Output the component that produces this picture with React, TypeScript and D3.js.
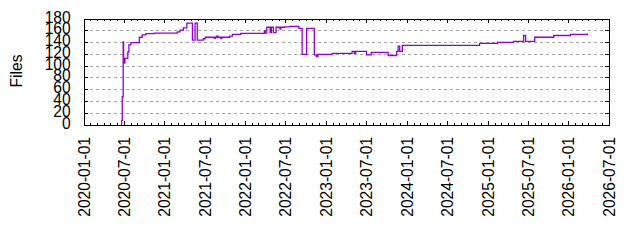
import React from "react";
import * as d3 from "d3";

const dates: string[] = [
  "2020-06-17", "2020-06-19", "2020-06-22", "2020-06-26", "2020-06-28", "2020-07-04",
  "2020-07-17", "2020-07-22", "2020-07-31", "2020-09-07", "2020-09-20", "2020-10-07",
  "2020-11-13", "2021-02-26", "2021-03-10", "2021-03-25", "2021-04-10", "2021-05-05",
  "2021-05-17", "2021-05-27", "2021-06-23", "2021-07-02", "2021-08-12", "2021-08-16",
  "2021-08-23", "2021-08-28", "2021-09-10", "2021-09-15", "2021-10-21", "2021-11-02",
  "2021-12-10", "2022-03-26", "2022-03-30", "2022-04-06", "2022-04-21", "2022-04-27",
  "2022-05-06", "2022-05-18", "2022-06-05", "2022-06-09", "2022-06-24", "2022-07-20",
  "2022-08-29", "2022-09-13", "2022-10-03", "2022-11-07", "2022-11-17", "2022-11-23",
  "2023-01-27", "2023-04-27", "2023-05-07", "2023-05-13", "2023-07-01", "2023-07-22",
  "2023-10-07", "2023-11-14", "2023-11-21", "2023-11-28", "2023-12-10", "2024-11-23",
  "2025-02-12", "2025-04-26", "2025-06-10", "2025-06-19", "2025-07-30", "2025-10-24",
  "2026-01-08", "2026-03-26",
];
const files: number[] = [
  0, 8, 48, 141, 105, 113,
  124, 136, 140, 149, 153, 155,
  156, 158, 161, 165, 173, 144,
  173, 144, 146.5, 149, 147, 149,
  151, 149, 147, 149, 151, 154,
  155.6, 160, 156, 166, 157, 166,
  157, 166, 163, 166, 166.5, 167.5,
  164, 120, 164, 119, 116, 120,
  121.7, 125, 121.5, 125, 119, 123.4,
  118, 125, 134, 125, 135.3, 138.7,
  140.4, 142, 152, 142, 149, 152,
  154, 155.5,
];
const yTicks: number[] = [0, 20, 40, 60, 80, 100, 120, 140, 160, 180];
const xTickLabels: string[] = [
  "2020-01-01", "2020-07-01", "2021-01-01", "2021-07-01", "2022-01-01", "2022-07-01",
  "2023-01-01", "2023-07-01", "2024-01-01", "2024-07-01", "2025-01-01", "2025-07-01",
  "2026-01-01", "2026-07-01",
];
const yLabel = "Files";

const W = 640, H = 240;
const L = 84, R = 609, T = 19, B = 125;
const FONT = "'Liberation Sans', Arial, sans-serif";
const FS = 15.6;

export default function App() {
  const parse = d3.utcParse("%Y-%m-%d");
  const x = d3.scaleUtc()
    .domain([parse("2020-01-01")!, parse("2026-07-01")!])
    .range([L, R]);
  const y = d3.scaleLinear().domain([0, 180]).range([B, T]);
  const data = dates.map((d, i) => ({ t: parse(d)!, v: files[i] }));
  const line = d3.line<{ t: Date; v: number }>()
    .x((d) => x(d.t))
    .y((d) => y(d.v))
    .curve(d3.curveStepAfter);
  const majors = xTickLabels.map((s) => parse(s)!);
  const minors = d3.utcMonth.range(x.domain()[0], x.domain()[1]);

  return (
    <svg width={W} height={H} style={{ position: "absolute", left: 0, top: 0, background: "#fff" }}>
      {yTicks.slice(1, -1).map((v) => (
        <line key={"g" + v} x1={L} x2={R} y1={y(v)} y2={y(v)} stroke="#a0a0a0" strokeWidth={1} strokeDasharray="3,3" shapeRendering="crispEdges" />
      ))}
      {minors.map((m, i) => (
        <g key={"m" + i}>
          <line x1={x(m)} x2={x(m)} y1={B} y2={B - 2} stroke="#000" shapeRendering="crispEdges" />
          <line x1={x(m)} x2={x(m)} y1={T} y2={T + 2} stroke="#000" shapeRendering="crispEdges" />
        </g>
      ))}
      {majors.map((m, i) => (
        <g key={"M" + i}>
          <line x1={x(m)} x2={x(m)} y1={B} y2={B - 4} stroke="#000" shapeRendering="crispEdges" />
          <line x1={x(m)} x2={x(m)} y1={T} y2={T + 4} stroke="#000" shapeRendering="crispEdges" />
          <text
            transform={`translate(${x(m) + 5.5},137) rotate(-90)`}
            textAnchor="end"
            fontFamily={FONT}
            fontSize={FS}
            fill="#000"
          >
            {xTickLabels[i]}
          </text>
        </g>
      ))}
      {yTicks.map((v) => (
        <g key={"y" + v}>
          <line x1={L} x2={L + 4} y1={y(v)} y2={y(v)} stroke="#000" shapeRendering="crispEdges" />
          <line x1={R} x2={R - 4} y1={y(v)} y2={y(v)} stroke="#000" shapeRendering="crispEdges" />
          <text x={70.7} y={y(v) + 3.6} textAnchor="end" fontFamily={FONT} fontSize={FS} fill="#000">
            {v}
          </text>
        </g>
      ))}
      <path d={line(data) || ""} fill="none" stroke="#9400d3" strokeWidth={1.3} />
      <rect x={L} y={T} width={R - L} height={B - T} fill="none" stroke="#000" strokeWidth={1} shapeRendering="crispEdges" />
      <text transform="translate(21.5,71) rotate(-90)" textAnchor="middle" fontFamily={FONT} fontSize={FS} fill="#000">
        {yLabel}
      </text>
    </svg>
  );
}
